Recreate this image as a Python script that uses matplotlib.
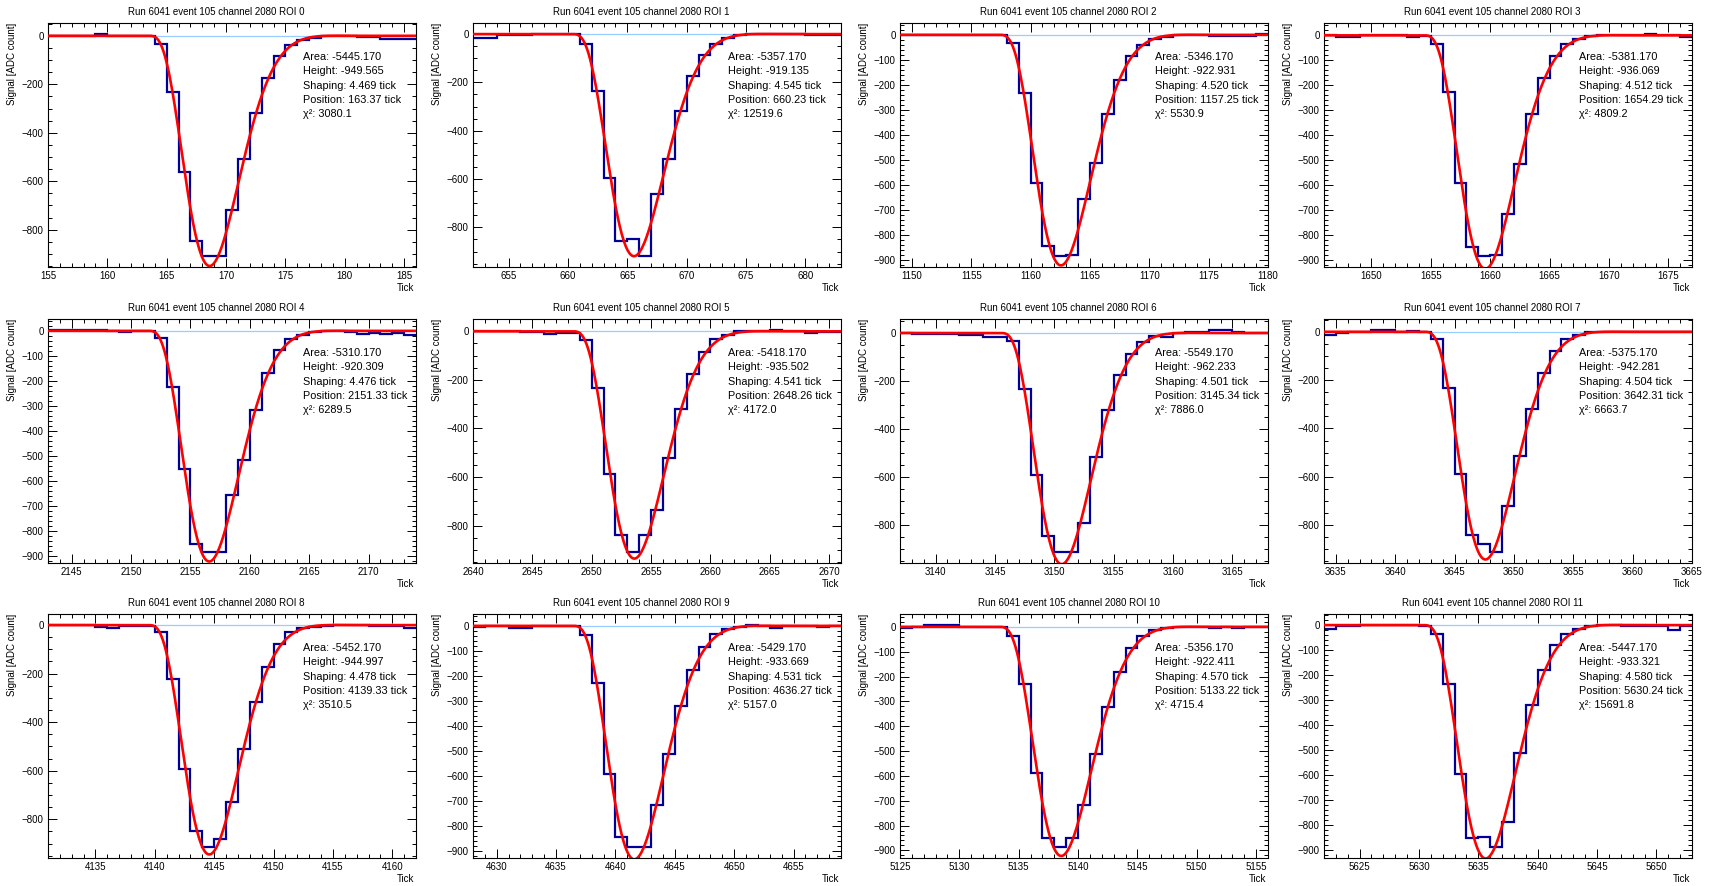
# Fits das ROIs - Run 6041 event 105 channel 2080
import numpy as np
import matplotlib
matplotlib.use("Agg")
import matplotlib.pyplot as plt
from matplotlib.ticker import MultipleLocator, AutoMinorLocator

plt.rcParams['font.family'] = ['Liberation Sans', 'DejaVu Sans']

roi_start = [155, 652, 1149, 1646, 2143, 2640, 3137, 3634, 4131, 4628, 5125, 5622]

# conteudo dos bins (1 tick cada)
sinal = [
    [0, 0, 0, 0, 7, 0, 0, 0, 0, -35, -230, -560, -845, -908, -908, -718, -510, -320, -173, -85,
     -38, -16, -8, 0, 0, 0, -3, -6, -15, -15, -15],
    [-15, -15, -3, -3, -3, 0, 0, 0, 0, -40, -235, -595, -855, -850, -918, -660, -515, -320, -175, -85,
     -40, -15, -3, 0, 0, 0, 0, 0, -5, -5, -5],
    [0, 0, 0, 0, 0, 0, 0, 0, 0, -33, -232, -593, -847, -885, -880, -657, -512, -318, -179, -86,
     -40, -17, -7, -2, 0, 0, -3, -3, -3, -3, 3],
    [0, -5, -5, 0, 0, 0, 0, -5, -3, -33, -227, -592, -847, -884, -880, -718, -515, -315, -169, -82,
     -33, -15, -3, 0, 0, 0, 0, 5, 0, 0, -5],
    [3, 3, 3, 3, 3, 0, -5, 0, 0, -29, -223, -552, -849, -882, -882, -653, -516, -316, -169, -77,
     -33, -15, -3, 0, 0, -5, -12, -8, -12, -8, -15],
    [0, 0, 0, 0, -3, -3, -12, -5, -5, -37, -235, -588, -840, -908, -840, -735, -520, -320, -174, -85,
     -30, -16, 0, 0, 0, 5, 0, 0, -5, -3, -3],
    [0, -3, -3, -3, -3, -8, -8, -15, -15, -35, -235, -590, -845, -911, -911, -789, -517, -319, -173, -86,
     -39, -11, -15, 0, 5, 5, 12, 12, 5, 0, 0],
    [-14, -5, 0, 0, 7, 7, 0, 5, 0, -30, -231, -589, -841, -879, -911, -719, -516, -320, -170, -78,
     -30, -14, 0, 0, 0, 0, 0, 0, 0, 0, 0],
    [0, 0, 0, 0, -8, -12, -5, -5, -5, -30, -222, -594, -849, -914, -882, -729, -510, -315, -174, -78,
     -30, -12, -8, -3, 0, 0, 0, -3, -3, -3, -12],
    [-5, 0, 0, -8, -8, 0, 0, 0, 0, -35, -230, -592, -845, -884, -884, -718, -511, -322, -176, -85,
     -31, -13, -3, 3, 0, -8, 0, 0, 0, -5, 0],
    [-3, 0, 7, 7, 7, -2, -2, -2, -2, -37, -231, -590, -850, -886, -850, -719, -513, -323, -183, -86,
     -37, -13, -5, 0, 0, 0, -5, 0, -5, 0, 0],
    [-16, -3, -3, 0, 0, 0, 0, 0, -3, -35, -235, -594, -853, -847, -887, -787, -511, -319, -178, -80,
     -36, -14, -3, 0, 0, -3, -3, -3, -5, -18, -3],
]

# parametros do fit
area = [-5445.170, -5357.170, -5346.170, -5381.170, -5310.170, -5418.170,
        -5549.170, -5375.170, -5452.170, -5429.170, -5356.170, -5447.170]
altura = [-949.565, -919.135, -922.931, -936.069, -920.309, -935.502,
          -962.233, -942.281, -944.997, -933.669, -922.411, -933.321]
shaping = [4.469, 4.545, 4.520, 4.512, 4.476, 4.541, 4.501, 4.504, 4.478, 4.531, 4.570, 4.580]
posicao = [163.37, 660.23, 1157.25, 1654.29, 2151.33, 2648.26,
           3145.34, 3642.31, 4139.33, 4636.27, 5133.22, 5630.24]
chi2 = [3080.1, 12519.6, 5530.9, 4809.2, 6289.5, 4172.0, 7886.0, 6663.7, 3510.5, 5157.0, 4715.4, 15691.8]

passo_y = [200, 200, 100, 100, 100, 200, 200, 200, 200, 100, 100, 100]


def resposta(t, t0, tau):
    # resposta da eletronica fria (cold electronics), x em unidades do shaping
    x = np.clip((t - t0) / tau, 0, None)
    e1 = np.exp(-2.94809 * x)
    e2 = np.exp(-2.82833 * x)
    e3 = np.exp(-2.40318 * x)
    a, b = 1.19361 * x, 2.38722 * x
    c, d = 2.5928 * x, 5.18561 * x
    f = (4.31054 * e1
         - 2.6202 * e2 * np.cos(a) - 2.6202 * e2 * np.cos(a) * np.cos(b)
         + 0.464924 * e3 * np.cos(c) + 0.464924 * e3 * np.cos(c) * np.cos(d)
         + 0.762456 * e2 * np.sin(a) - 0.762456 * e2 * np.cos(b) * np.sin(a)
         + 0.762456 * e2 * np.cos(a) * np.sin(b) - 2.6202 * e2 * np.sin(a) * np.sin(b)
         - 0.327684 * e3 * np.sin(c) + 0.327684 * e3 * np.cos(d) * np.sin(c)
         - 0.327684 * e3 * np.cos(c) * np.sin(d) + 0.464924 * e3 * np.sin(c) * np.sin(d))
    f[t < t0] = 0
    return f


W, H = 1715, 886
fig = plt.figure(figsize=(W / 100, H / 100), dpi=100)

lefts = [48, 473, 900, 1324]
tops = [23, 319, 614]
aw, ah = 368, 244

for i in range(12):
    lin, col = divmod(i, 4)
    ax = fig.add_axes([lefts[col] / W, (H - tops[lin] - ah) / H, aw / W, ah / H])

    y = np.array(sinal[i], dtype=float)
    bordas = roi_start[i] + np.arange(len(y) + 1)

    ymin, ymax = y.min(), y.max()
    r = ymax - ymin
    ax.set_ylim(ymin - 0.05 * r, ymax + 0.05 * r)
    ax.set_xlim(bordas[0], bordas[-1])

    ax.axhline(0, color="#99ccff", lw=0.9, zorder=1)
    ax.stairs(y, bordas, baseline=None, color="#000099", lw=1.6, zorder=2)

    t = np.linspace(bordas[0], bordas[-1], 800)
    tn = np.linspace(0, 12 * shaping[i], 4000)
    norm = resposta(tn, 0, shaping[i]).max()
    f = resposta(t, posicao[i], shaping[i]) / norm * (-altura[i]) * -1
    ax.plot(t, f, color="red", lw=1.9, zorder=3)

    ax.xaxis.set_major_locator(MultipleLocator(5))
    ax.xaxis.set_minor_locator(MultipleLocator(1))
    ax.yaxis.set_major_locator(MultipleLocator(passo_y[i]))
    ax.yaxis.set_minor_locator(AutoMinorLocator(4 if passo_y[i] == 200 else 5))
    ax.tick_params(which="both", direction="in", top=True, right=True, labelsize=7, width=0.7)
    ax.tick_params(which="major", length=6.5, pad=3)
    ax.tick_params(which="minor", length=3.2)
    for s in ax.spines.values():
        s.set_linewidth(0.8)

    ax.text(0.458, 1.045, "Run 6041 event 105 channel 2080 ROI %d" % i, transform=ax.transAxes,
            ha="center", va="center", fontsize=7)
    ax.text(-0.097, 1.0, "Signal [ADC count]", transform=ax.transAxes, rotation=90,
            ha="center", va="top", fontsize=7)
    ax.text(0.995, -0.088, "Tick", transform=ax.transAxes, ha="right", va="center", fontsize=7)

    linhas = ["Area: %.3f" % area[i], "Height: %.3f" % altura[i],
              "Shaping: %.3f tick" % shaping[i], "Position: %.2f tick" % posicao[i],
              "χ²: %.1f" % chi2[i]]
    for k, txt in enumerate(linhas):
        ax.text(0.694, 0.861 - k * 0.0587, txt, transform=ax.transAxes,
                ha="left", va="center", fontsize=7.8)

plt.savefig("out.png", dpi=100)
